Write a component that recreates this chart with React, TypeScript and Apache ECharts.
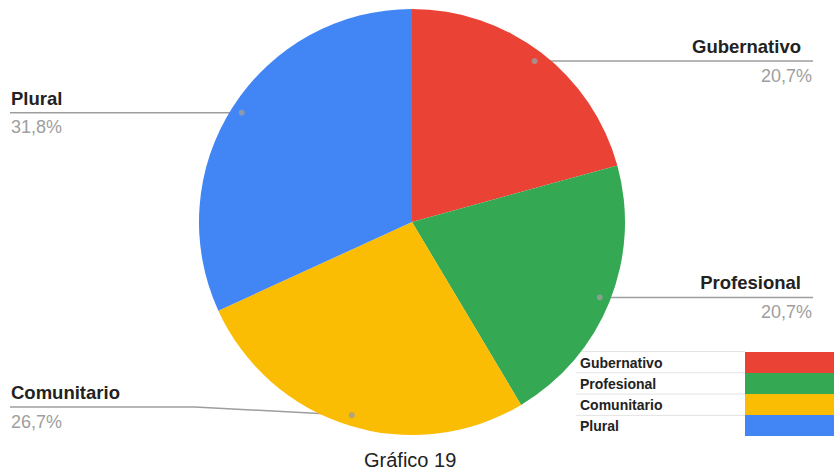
import React, { useEffect, useRef } from "react";
import * as echarts from "echarts";

const categories = ["Gubernativo", "Profesional", "Comunitario", "Plural"];
const values = [20.7, 20.7, 26.7, 31.8];
const percentLabels = ["20,7%", "20,7%", "26,7%", "31,8%"];
const colors = ["#EA4335", "#34A853", "#FBBC04", "#4285F4"];
const caption = "Gráfico 19";

const CX = 412;
const CY = 222;
const R = 213;
const DOT_R = 0.95;
const LABEL_MAX_Y = 407;
const FONT = "'Liberation Sans', Arial, Helvetica, sans-serif";

export default function App() {
  const ref = useRef<HTMLDivElement>(null);
  useEffect(() => {
    if (!ref.current) return;
    const chart = echarts.init(ref.current, undefined, { renderer: "svg" });
    const total = values.reduce((a, b) => a + b, 0);
    const mids: number[] = [];
    let acc = 0;
    values.forEach((v) => {
      mids.push(acc + v / 2);
      acc += v;
    });
    const dots = mids.map((m) => {
      const ang = (m / total) * Math.PI * 2;
      return [CX + Math.sin(ang) * R * DOT_R, CY - Math.cos(ang) * R * DOT_R];
    });

    chart.setOption({
      animation: false,
      color: colors,
      title: {
        text: caption,
        left: 364,
        top: 450,
        padding: 0,
        textStyle: { fontFamily: FONT, fontSize: 20, fontWeight: "normal", color: "#222" },
      },
      legend: {
        orient: "vertical",
        right: 0,
        top: 352,
        padding: 0,
        itemGap: 0,
        itemWidth: 89,
        itemHeight: 21,
        align: "right",
        icon: "rect",
        selectedMode: false,
        data: categories,
        formatter: (name: string) => `{t|${name}}`,
        textStyle: {
          rich: {
            t: { width: 160, align: "left", fontFamily: FONT, fontSize: 14, fontWeight: "bold", color: "#222" },
          },
        },
      },
      polar: { center: [CX, CY], radius: R },
      angleAxis: { type: "value", min: 0, max: total, startAngle: 90, clockwise: true, show: false },
      radiusAxis: { type: "value", min: 0, max: 1, show: false },
      graphic: [0, 1, 2, 3].map((k) => ({
        type: "line",
        shape: { x1: 576, y1: 351.5 + k * 21.3, x2: 745, y2: 351.5 + k * 21.3 },
        style: { stroke: "#e3e3e3", lineWidth: 1 },
        z: 1,
      })),
      series: [
        {
          type: "pie",
          center: [CX, CY],
          radius: [0, R],
          startAngle: 90,
          clockwise: true,
          avoidLabelOverlap: false,
          itemStyle: { borderWidth: 0 },
          emphasis: { disabled: true },
          data: categories.map((c, i) => ({ name: c, value: values[i] })),
          label: {
            show: true,
            position: "outside",
            formatter: (p: any) => {
              const right = mids[p.dataIndex] / total < 0.5;
              return `{${right ? "nr" : "n"}|${p.name}}\n{p|${percentLabels[p.dataIndex]}}`;
            },
            rich: {
              n: { fontFamily: FONT, fontSize: 18.5, fontWeight: "bold", color: "#222", lineHeight: 29 },
              nr: { fontFamily: FONT, fontSize: 18.5, fontWeight: "bold", color: "#222", lineHeight: 29, padding: [0, 11, 0, 0] },
              p: { fontFamily: FONT, fontSize: 18, color: "#9e9e9e", lineHeight: 29 },
            },
          },
          labelLine: { show: true, lineStyle: { color: "#9e9e9e", width: 1.5 } },
          labelLayout: (params: any) => {
            const i = params.dataIndex;
            const dot = dots[i];
            const right = dot[0] > CX;
            const ly = Math.min(dot[1], LABEL_MAX_Y);
            const mid = [right ? CX + R : CX - R - 4, ly];
            const end = [right ? 813 : 10, ly];
            return {
              x: right ? 812 : 11,
              y: ly,
              align: right ? "right" : "left",
              verticalAlign: "middle",
              labelLinePoints: [dot, mid, end],
            };
          },
        },
        {
          type: "scatter",
          coordinateSystem: "polar",
          symbol: "circle",
          symbolSize: 6,
          z: 5,
          silent: true,
          itemStyle: { color: "#9e9e9e" },
          data: mids.map((m) => [DOT_R, m]),
        },
      ],
    });
    return () => chart.dispose();
  }, []);
  return (
    <div
      ref={ref}
      style={{ position: "fixed", left: 0, top: 0, width: 834, height: 474, background: "#fff" }}
    />
  );
}
